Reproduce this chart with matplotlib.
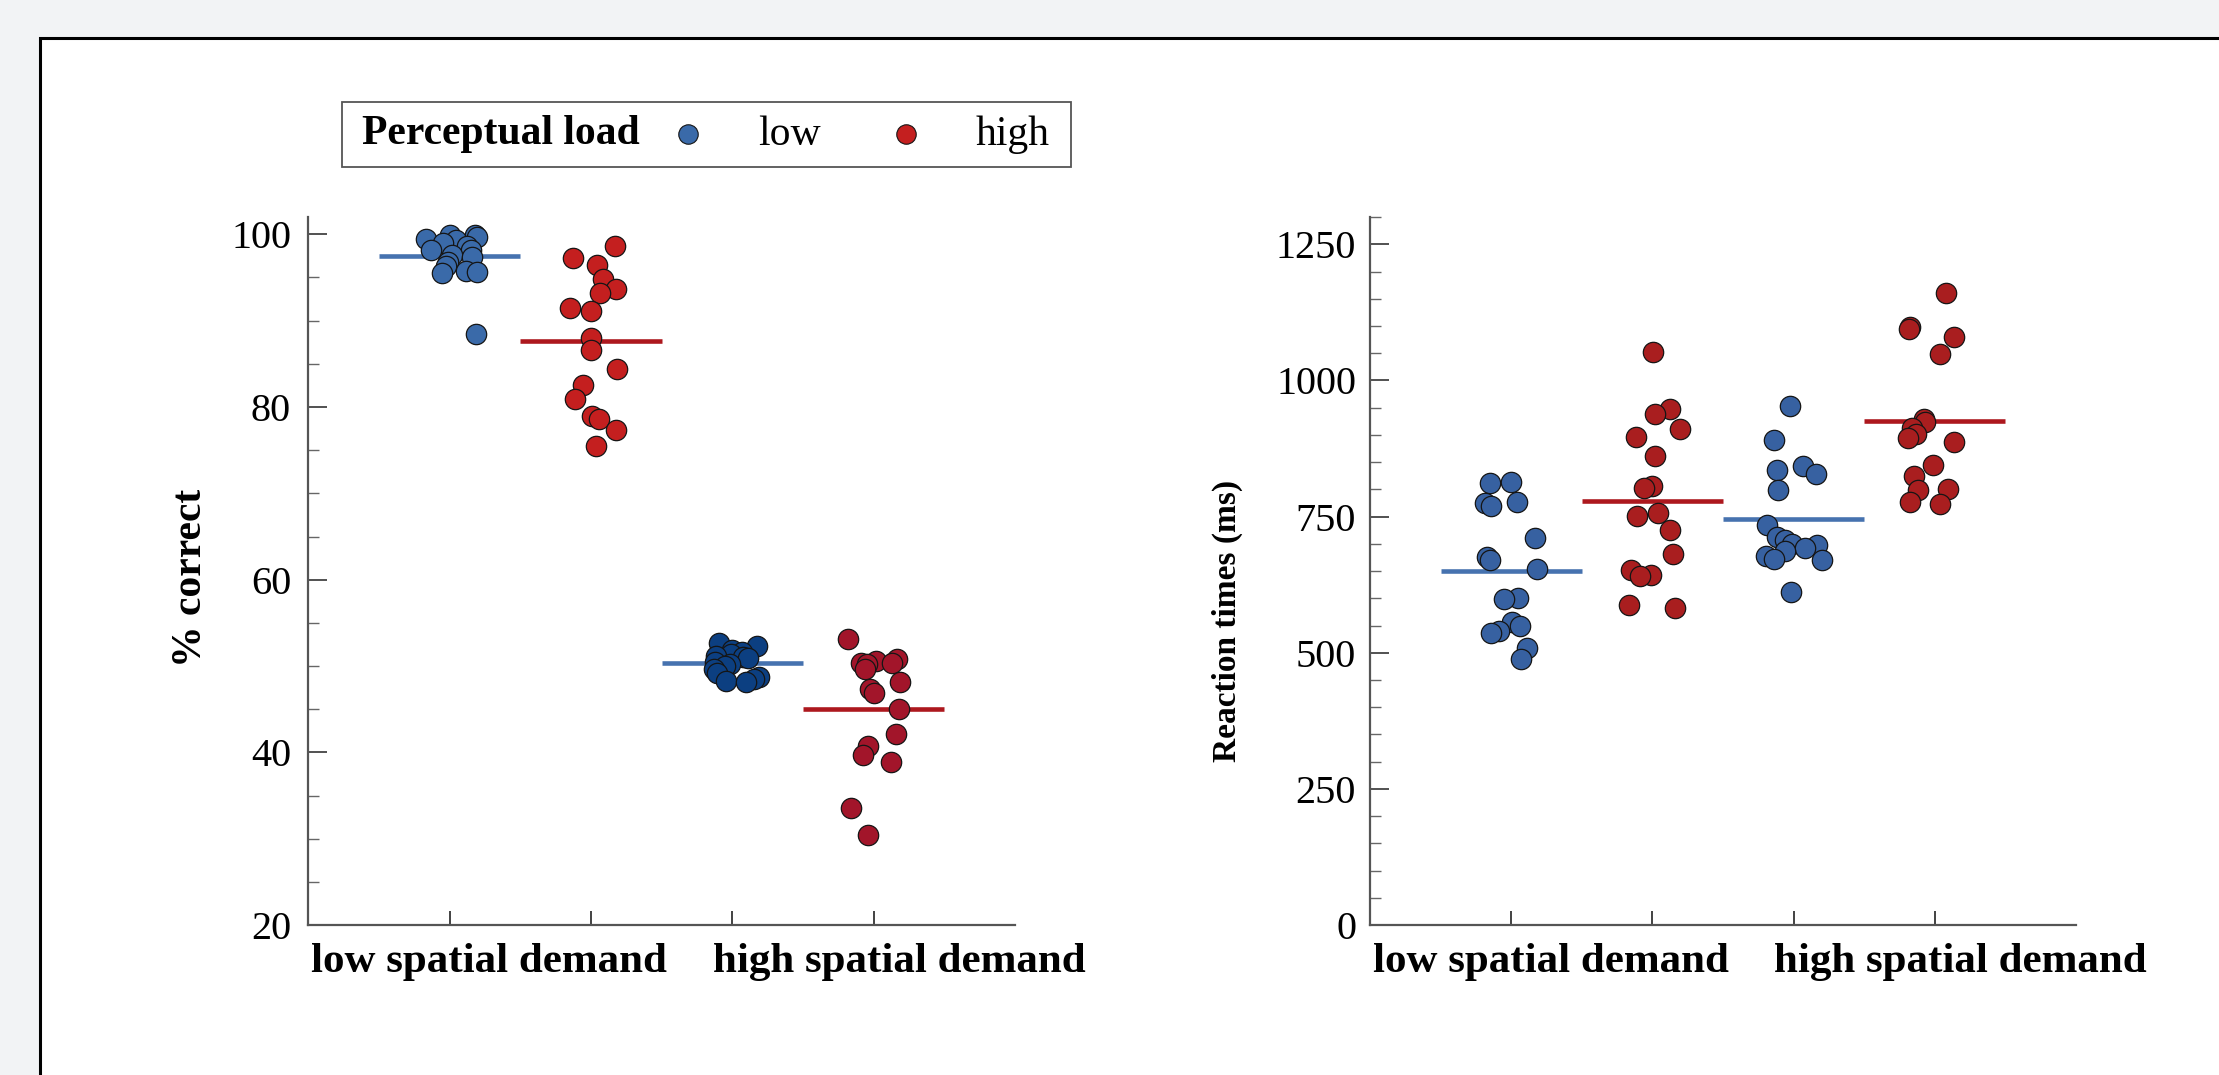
import numpy as np
import matplotlib
matplotlib.use("Agg")
import matplotlib.pyplot as plt
from matplotlib.ticker import MultipleLocator
from matplotlib.patches import Rectangle
from matplotlib.lines import Line2D
from matplotlib.offsetbox import AnchoredOffsetbox, HPacker, TextArea, DrawingArea

plt.rcParams['font.family'] = ['Liberation Serif', 'DejaVu Serif']

# x-axis categories (two per spatial demand level)
spatial_labels = ["low spatial demand", "high spatial demand"]
load_labels = ["low", "high"]

# % correct, one value per participant
acc_lsd_low = [99.9, 99.9, 99.7, 99.5, 99.3, 99.0, 98.6, 98.2, 98.2, 97.6,
               97.4, 96.8, 96.3, 95.8, 95.6, 95.5, 88.4]
acc_lsd_high = [98.7, 97.3, 96.5, 94.8, 93.7, 93.2, 91.5, 91.1, 88.0, 86.6,
                84.4, 82.6, 80.9, 78.9, 78.6, 77.3, 75.5]
acc_hsd_low = [52.7, 52.3, 51.9, 51.6, 51.4, 51.2, 51.0, 50.9, 50.5, 50.2,
               50.0, 49.6, 49.2, 48.7, 48.5, 48.3, 48.2]
acc_hsd_high = [53.1, 50.8, 50.6, 50.4, 50.4, 50.2, 49.6, 48.2, 47.3, 46.9,
                45.0, 42.1, 40.7, 39.7, 38.9, 33.5, 30.4]
acc_means = [97.5, 87.6, 50.4, 45.0]

# reaction times (ms)
rt_lsd_low = [812, 813, 777, 775, 769, 710, 675, 670, 653, 600,
              598, 557, 549, 539, 537, 509, 488]
rt_lsd_high = [1052, 948, 938, 910, 897, 861, 807, 803, 756, 751,
               725, 681, 652, 642, 641, 587, 583]
rt_hsd_low = [953, 890, 842, 835, 829, 799, 734, 713, 707, 700,
              697, 693, 687, 677, 673, 671, 611]
rt_hsd_high = [1160, 1099, 1095, 1079, 1048, 929, 923, 913, 901, 895,
               887, 845, 824, 800, 799, 777, 774]
rt_means = [650, 779, 746, 926]

BLUE = '#3a6aa9'
RED = '#c41f1f'
LINE_BLUE = '#4672af'
LINE_RED = '#ad181e'


def draw_panel(ax, groups, means, dot_colors, ylim, major, minor,
               ylabel, ylabel_size, ylabel_xy, label_pad, seed):
    rng = np.random.default_rng(seed)
    line_colors = [LINE_BLUE, LINE_RED, LINE_BLUE, LINE_RED]
    for i, vals in enumerate(groups):
        ax.hlines(means[i], i - 0.5, i + 0.5, color=line_colors[i],
                  lw=3.3, zorder=2)
        jit = rng.uniform(-0.2, 0.2, len(vals))
        ax.scatter(i + jit, vals, s=215, color=dot_colors[i],
                   edgecolor='#151515', linewidth=0.9, zorder=3)

    ax.set_xlim(-1, 4)
    ax.set_ylim(*ylim)
    ax.yaxis.set_major_locator(MultipleLocator(major))
    ax.yaxis.set_minor_locator(MultipleLocator(minor))
    ax.set_xticks(range(4))
    ax.set_xticklabels([])
    ax.set_xticks([0.28, 3.18], spatial_labels, minor=True)

    for side in ['top', 'right']:
        ax.spines[side].set_visible(False)
    for side in ['left', 'bottom']:
        ax.spines[side].set_color('#555555')
        ax.spines[side].set_linewidth(1.6)
    ax.patch.set_visible(False)

    ax.tick_params(axis='y', which='major', direction='in', length=14,
                   width=1.2, color='#333333', labelsize=29, pad=label_pad)
    ax.tick_params(axis='y', which='minor', direction='in', length=8,
                   width=1.0, color='#666666')
    ax.tick_params(axis='x', which='major', direction='in', length=10,
                   width=1.2, color='#222222')
    ax.tick_params(axis='x', which='minor', length=0, pad=13, labelsize=31)
    for lbl in ax.get_xticklabels(minor=True):
        lbl.set_fontweight('bold')

    ax.set_ylabel(ylabel, fontsize=ylabel_size, fontweight='bold')
    ax.yaxis.set_label_coords(*ylabel_xy)


fig = plt.figure(figsize=(22.19, 10.75), dpi=100)
fig.patch.set_facecolor('#f2f3f5')
# white panel with black frame (runs off the right and bottom edges)
fig.patches.append(Rectangle((40 / 2219, -0.05), 1.0, 1.0147,
                             transform=fig.transFigure, facecolor='white',
                             edgecolor='black', linewidth=2.2, zorder=-1))

ax1 = fig.add_axes([0.1390, 0.1395, 0.3184, 0.6586])
ax2 = fig.add_axes([0.6174, 0.1395, 0.3182, 0.6586])

draw_panel(ax1, [acc_lsd_low, acc_lsd_high, acc_hsd_low, acc_hsd_high],
           acc_means, [BLUE, RED, '#0c3f81', '#a2152a'], (20, 102), 20, 5,
           '% correct', 30, (-0.14, 0.49), 12.5, 4)
draw_panel(ax2, [rt_lsd_low, rt_lsd_high, rt_hsd_low, rt_hsd_high],
           rt_means, ['#3761a1', '#a91e1f', '#3761a1', '#a91e1f'],
           (0, 1300), 250, 50, 'Reaction times (ms)', 24, (-0.18, 0.43),
           10, 11)


# legend: "Perceptual load  ● low  ● high" on one row
def marker_box(width, x_mark, color):
    da = DrawingArea(width, 20, 0, 0)
    da.add_artist(Line2D([x_mark], [10], marker='o', markersize=14,
                         color=color, markeredgecolor='#151515',
                         markeredgewidth=0.8, linestyle='none'))
    return da


items = [DrawingArea(5, 20, 0, 0),
         TextArea('Perceptual load',
                  textprops=dict(fontsize=30, fontweight='bold')),
         marker_box(85, 34.6, BLUE),
         TextArea(load_labels[0], textprops=dict(fontsize=30)),
         marker_box(111.6, 61.2, RED),
         TextArea(load_labels[1], textprops=dict(fontsize=30)),
         DrawingArea(5.5, 20, 0, 0)]
row = HPacker(children=items, align='center', pad=0, sep=0)
leg = AnchoredOffsetbox(loc='lower left', child=row, pad=0.32, borderpad=0,
                        frameon=True, bbox_to_anchor=(0.1541, 0.8447),
                        bbox_transform=fig.transFigure, prop=dict(size=30))
leg.patch.set_edgecolor('#555555')
leg.patch.set_linewidth(1.3)
fig.add_artist(leg)

fig.savefig('out.png', dpi=100, facecolor=fig.get_facecolor())
